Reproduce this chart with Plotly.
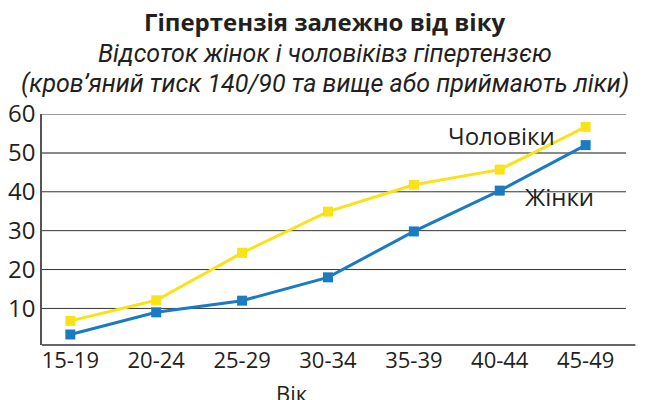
import plotly.graph_objects as go

categories = ["15-19", "20-24", "25-29", "30-34", "35-39", "40-44", "45-49"]
men = [6.8, 12.1, 24.3, 34.9, 41.8, 45.7, 56.7]
women = [3.3, 9.0, 12.0, 18.0, 29.8, 40.3, 52.0]
y_ticks = [10, 20, 30, 40, 50, 60]

title = "Гіпертензія залежно від віку"
sub1 = "Відсоток жінок і чоловіківз гіпертензєю"
sub2 = "(кров’яний тиск 140/90 та вище або приймають ліки)"
xlabel = "Вік"
men_label = "Чоловіки"
women_label = "Жінки"

YELLOW = "#FAE219"
BLUE = "#1A7BC3"
TXT = "#231F20"
FONT = "Open Sans"
NARROW = "Liberation Sans Narrow, Roboto"

fig = go.Figure()
fig.add_trace(go.Scatter(x=categories, y=men, mode="lines+markers",
                         line=dict(color=YELLOW, width=3),
                         marker=dict(symbol="square", size=10, color=YELLOW),
                         showlegend=False, cliponaxis=False))
fig.add_trace(go.Scatter(x=categories, y=women, mode="lines+markers",
                         line=dict(color=BLUE, width=3),
                         marker=dict(symbol="square", size=10, color=BLUE),
                         showlegend=False, cliponaxis=False))

for v in y_ticks:
    special = (v == 50)
    fig.add_shape(type="line", xref="paper", x0=0, x1=1, yref="y", y0=v, y1=v,
                  line=dict(color="#8a8a8a" if special else "#333333",
                            width=2 if special else 1),
                  layer="below")
# extended x-axis baseline
fig.add_shape(type="line", xref="paper", x0=0, x1=1.016, yref="paper", y0=0, y1=0,
              line=dict(color="#333333", width=1.5), layer="below")

fig.update_layout(
    width=650, height=400,
    margin=dict(l=34, r=32, t=106, b=63),
    paper_bgcolor="white", plot_bgcolor="white",
    font=dict(family=FONT, color=TXT),
    xaxis=dict(type="category", range=[-0.33, 6.47], showgrid=False,
               showline=False, ticks="", automargin=False,
               tickfont=dict(size=22, color=TXT), zeroline=False),
    yaxis=dict(range=[0.6, 60], tickvals=y_ticks, showgrid=False,
               showline=True, linecolor="#555", linewidth=1.5, ticks="",
               automargin=False,
               tickfont=dict(size=24, color=TXT), zeroline=False),
)

def ann(text, x, y, size, family=FONT):
    fig.add_annotation(text=text, xref="paper", yref="paper", x=x, y=y,
                       xanchor="center", yanchor="middle", showarrow=False,
                       font=dict(size=size, color=TXT, family=family))

ann(f"<b>{title}</b>", 0.4846, 1.400, 24)
ann(f"<i>{sub1}</i>", 0.4846, 1.263, 25, NARROW)
ann(f"<i>{sub2}</i>", 0.4846, 1.132, 25, NARROW)
ann(xlabel, 0.428, -0.207, 22)
ann(men_label, 0.787, 0.909, 24)
ann(women_label, 0.886, 0.643, 24)

fig.write_html("out.html")
